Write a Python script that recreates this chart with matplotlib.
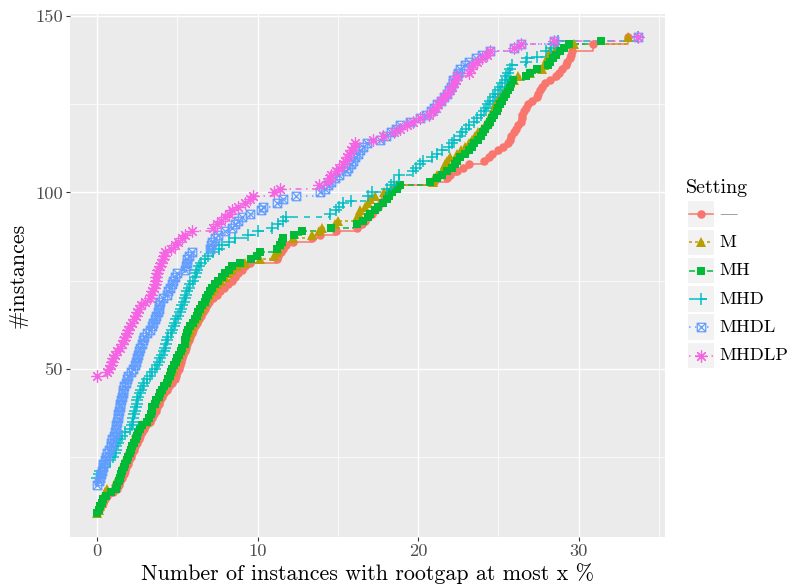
import matplotlib
matplotlib.use('Agg')
import matplotlib.pyplot as plt
from matplotlib.path import Path
from matplotlib.patches import Rectangle
from matplotlib.lines import Line2D

# ---------------- data ----------------
settings = ['—', 'M', 'MH', 'MHD', 'MHDL', 'MHDLP']
colors = ['#F8766D', '#B79F00', '#00BA38', '#00BFC4', '#619CFF', '#F564E3']

x_ticks = [0, 10, 20, 30]
x_tick_labels = ['0', '10', '20', '30']
y_ticks = [50, 100, 150]
y_tick_labels = ['50', '100', '150']

s_none = [(0,9),(0.15,10),(0.25,11),(0.35,12),(0.5,13),(0.65,14),(1.0,15),(1.25,16),(1.35,17),(1.45,18),
          (1.55,19),(1.65,20),(1.72,21),(1.8,22),(1.9,23),(2.0,24),(2.1,25),(2.2,26),(2.28,27),(2.38,28),
          (2.5,29),(2.62,30),(2.7,31),(2.8,32),(2.9,33),(3.05,34),(3.3,35),(3.45,36),(3.55,37),(3.65,38),
          (3.75,39),(3.85,40),(3.95,41),(4.05,42),(4.2,43),(4.35,44),(4.5,45),(4.7,46),(4.85,47),(4.92,48),
          (5.0,49),(5.08,50),(5.15,51),(5.22,52),(5.3,53),(5.38,54),(5.45,55),(5.52,56),(5.6,57),(5.7,58),
          (5.8,59),(5.9,60),(6.0,61),(6.1,62),(6.2,63),(6.35,64),(6.5,65),(6.6,66),(6.7,67),(6.85,68),
          (7.0,69),(7.2,70),(7.45,71),(7.65,72),(7.9,73),(8.15,74),(8.4,75),(8.6,76),(8.8,77),(9.0,78),
          (9.2,79),(9.5,80),(11.2,81),(11.3,82),(11.45,83),(11.6,84),(11.8,85),(12.2,86),(13.4,87),(13.9,88),
          (14.9,89),(16.2,90),(16.5,91),(16.7,92),(16.9,93),(17.1,94),(17.3,95),(17.5,96),(17.7,97),(17.9,98),
          (18.1,99),(18.3,100),(18.5,101),(18.8,102),(21.0,103),(21.8,104),(22.0,105),(22.4,106),(22.8,107),
          (23.2,108),(24.1,109),(24.4,110),(24.6,111),(25.0,112),(25.3,113),(25.6,114),(25.7,115),(25.8,116),
          (26.0,117),(26.1,118),(26.25,119),(26.4,120),(26.45,121),(26.5,122),(26.6,123),(26.7,124),(26.85,125),
          (27.1,126),(27.4,127),(27.5,128),(27.6,129),(27.75,130),(27.9,131),(28.2,132),(28.6,133),(28.8,134),
          (28.95,135),(29.2,136),(29.3,137),(29.45,138),(29.5,139),(29.6,140),(30.9,142),(33.1,144)]

s_m = [(0,9),(0.1,10),(0.2,11),(0.3,12),(0.38,13),(0.5,15),(0.6,16),(1.1,17),(1.2,18),(1.3,19),
       (1.4,20),(1.48,21),(1.54,22),(1.62,23),(1.72,24),(1.82,25),(1.92,26),(2.0,27),(2.1,28),(2.2,29),
       (2.3,30),(2.37,31),(2.45,32),(2.55,33),(2.75,34),(3.05,35),(3.2,36),(3.3,37),(3.35,38),(3.42,39),
       (3.55,40),(3.65,41),(3.8,42),(3.92,43),(4.02,44),(4.12,45),(4.3,46),(4.45,47),(4.55,48),(4.65,49),
       (4.72,50),(4.82,51),(4.92,52),(5.02,53),(5.12,54),(5.25,55),(5.35,56),(5.48,57),(5.55,58),(5.62,59),
       (5.7,60),(5.78,61),(5.9,62),(6.02,63),(6.15,64),(6.28,65),(6.38,66),(6.48,67),(6.62,68),(6.75,69),
       (6.88,70),(7.0,71),(7.15,72),(7.3,73),(7.5,74),(7.7,75),(7.95,76),(8.15,77),(8.4,78),(8.7,79),
       (9.2,80),(10.15,81),(11.0,82),(11.2,83),(11.3,84),(11.4,85),(11.5,86),(12.2,87),(13.4,88),(13.8,89),
       (14.0,90),(14.8,91),(15.0,92),(16.2,93),(16.3,94),(16.4,95),(16.7,96),(16.85,97),(17.0,98),(17.3,99),
       (17.9,100),(18.3,101),(18.7,102),(20.9,103),(21.0,104),(21.2,105),(21.5,106),(21.6,107),(21.7,108),
       (21.8,109),(22.0,110),(22.4,111),(22.7,112),(22.9,113),(23.2,114),(23.35,115),(23.55,116),(23.75,117),
       (24.0,118),(24.2,119),(24.35,120),(24.45,121),(24.55,122),(24.65,123),(24.72,124),(24.8,125),(24.95,126),
       (25.05,127),(25.2,128),(25.4,129),(25.55,130),(25.7,131),(25.95,132),(26.25,133),(27.0,134),(27.7,135),
       (27.85,136),(27.95,137),(28.05,138),(28.15,139),(28.2,140),(28.6,141),(29.7,142),(33.1,144)]

s_mh = [(0,9),(0.1,10),(0.2,11),(0.3,12),(0.4,13),(0.55,14),(0.9,15),(1.15,16),(1.25,17),(1.35,18),
        (1.45,19),(1.52,20),(1.58,21),(1.65,22),(1.75,23),(1.85,24),(1.95,25),(2.05,26),(2.12,27),(2.2,28),
        (2.3,29),(2.42,30),(2.5,31),(2.57,32),(2.65,33),(2.8,34),(3.1,35),(3.25,36),(3.35,37),(3.4,38),
        (3.45,39),(3.6,40),(3.7,41),(3.85,42),(3.95,43),(4.05,44),(4.15,45),(4.35,46),(4.45,47),(4.55,48),
        (4.62,49),(4.7,50),(4.78,51),(4.9,52),(5.0,53),(5.1,54),(5.2,55),(5.3,56),(5.45,57),(5.5,58),
        (5.55,59),(5.6,60),(5.65,61),(5.8,62),(5.95,63),(6.1,64),(6.2,65),(6.3,66),(6.4,67),(6.55,68),
        (6.7,69),(6.8,70),(6.9,71),(7.05,72),(7.15,73),(7.35,74),(7.56,75),(7.8,76),(8.0,77),(8.2,78),
        (8.4,79),(8.9,80),(9.6,81),(9.95,82),(10.15,83),(11.2,84),(11.4,85),(11.5,86),(11.6,87),(12.3,88),
        (12.75,89),(14.6,90),(16.2,91),(16.6,92),(16.85,93),(17.0,94),(17.3,95),(17.5,96),(17.8,97),(18.05,98),
        (18.2,99),(18.4,100),(18.7,101),(18.9,102),(20.75,103),(21.2,104),(21.5,105),(21.8,106),(22.1,107),
        (22.3,108),(22.45,109),(22.6,110),(22.9,111),(23.2,112),(23.35,113),(23.5,114),(23.75,115),(23.9,116),
        (24.05,117),(24.2,118),(24.35,119),(24.5,120),(24.6,121),(24.75,122),(24.9,123),(25.0,124),(25.1,125),
        (25.2,126),(25.35,127),(25.5,128),(25.6,129),(25.7,130),(25.8,131),(25.9,132),(26.7,133),(27.0,134),
        (27.4,135),(28.1,136),(28.25,137),(28.4,138),(28.6,139),(28.85,140),(29.1,141),(29.4,142),(31.4,143)]

s_mhd = [(0,19),(0.1,20),(0.2,21),(0.5,22),(0.8,24),(1.0,25),(1.1,26),(1.15,27),(1.2,28),(1.3,29),
         (1.4,30),(1.55,31),(1.75,32),(2.05,33),(2.15,34),(2.25,35),(2.27,36),(2.3,37),(2.35,38),(2.42,39),
         (2.47,40),(2.52,41),(2.57,42),(2.65,43),(2.75,44),(2.85,45),(2.95,46),(3.1,47),(3.3,48),(3.45,49),
         (3.6,50),(3.75,51),(3.85,52),(3.95,53),(4.05,54),(4.15,55),(4.25,56),(4.3,57),(4.35,58),(4.45,59),
         (4.6,60),(4.7,61),(4.8,62),(4.87,63),(4.95,64),(5.05,65),(5.15,66),(5.22,67),(5.3,68),(5.4,69),
         (5.48,70),(5.55,71),(5.62,72),(5.72,73),(5.82,74),(5.95,75),(6.1,76),(6.18,77),(6.25,78),(6.35,79),
         (6.5,80),(6.7,81),(6.9,82),(7.25,83),(7.6,84),(7.8,85),(8.2,86),(8.6,87),(9.4,88),(10.05,89),
         (10.9,90),(11.3,91),(11.6,92),(11.8,93),(14.5,94),(14.9,95),(15.1,96),(15.3,97),(15.8,97.5),(16.9,99),
         (17.1,100),(18.05,101),(18.3,102),(18.5,103),(18.8,105),(19.7,106),(19.9,107),(20.1,108),(20.3,109),
         (20.85,110),(21.15,111),(21.5,112),(21.9,113),(22.1,114),(22.25,115),(22.6,116),(22.75,117),(23.0,118),
         (23.2,119),(23.5,120),(23.7,121),(23.9,122),(24.1,123),(24.25,124),(24.35,125),(24.5,126),(24.65,127),
         (24.8,128),(24.95,129),(25.1,130),(25.25,131),(25.4,132),(25.5,133),(25.6,134),(25.7,135),(25.84,136),
         (26.7,137),(26.8,138),(27.4,138.5),(28.0,140),(28.3,141),(28.5,142),(28.7,143),(33.7,144)]

s_mhdl = [(0,17),(0.1,18),(0.19,19),(0.25,20),(0.3,21),(0.35,22),(0.4,23),(0.5,24),(0.55,25),(0.6,26),
          (0.75,27),(0.85,28),(0.9,29),(0.95,30),(1.05,31),(1.1,32),(1.15,33),(1.2,34),(1.25,35),(1.3,36),
          (1.33,37),(1.36,38),(1.4,39),(1.43,40),(1.48,41),(1.54,42),(1.6,43),(1.64,44),(1.7,45),(1.78,46),
          (1.85,47),(1.95,48),(2.1,49),(2.25,50),(2.37,51),(2.45,52),(2.52,53),(2.58,54),(2.63,55),(2.68,56),
          (2.78,57),(2.85,58),(2.9,59),(3.1,60),(3.3,61),(3.4,62),(3.5,63),(3.6,64),(3.7,65),(3.78,66),
          (3.83,67),(3.88,68),(3.92,69),(4.1,70),(4.34,71),(4.45,72),(4.55,73),(4.65,74),(4.75,75),(4.85,76),
          (4.97,77),(5.5,78),(5.55,79),(5.58,80),(5.62,81),(5.75,82),(5.9,83),(7.04,84),(7.1,85),(7.15,86),
          (7.35,87),(7.56,88),(8.0,89),(8.4,90),(8.6,91),(8.8,92),(9.0,93),(9.5,94),(10.2,95),(10.35,96),
          (11.2,97),(11.6,98),(12.4,99),(13.9,100),(14.2,101),(14.4,102),(14.6,103),(14.8,104),(15.1,105),
          (15.5,106),(15.65,107),(15.8,108),(15.95,109),(16.1,110),(16.25,111),(16.4,112),(16.6,113),(16.8,114),
          (17.6,115),(18.0,116),(18.3,117),(18.6,118),(18.9,119),(19.5,120),(20.1,121),(20.5,122),(20.8,123),
          (21.0,124),(21.2,125),(21.4,126),(21.6,127),(21.8,128),(21.95,129),(22.05,130),(22.15,131),(22.2,132),
          (22.4,133),(22.5,134),(22.6,135),(22.9,136),(23.2,137),(23.6,138),(24.0,139),(24.5,140),(26.0,141),
          (26.4,142),(28.5,143),(33.7,144)]

s_mhdlp = [(0,48),(0.6,49),(0.75,50),(0.85,51),(0.95,52),(1.0,53),(1.1,54),(1.25,55),(1.43,56),(1.55,57),
           (1.65,58),(1.75,59),(1.85,60),(1.95,61),(2.05,62),(2.15,63),(2.3,64),(2.4,65),(2.5,66),(2.6,67),
           (2.75,68),(3.0,69),(3.3,70),(3.35,71),(3.45,72),(3.55,73),(3.6,74),(3.65,75),(3.7,76),(3.75,77),
           (3.8,78),(3.9,79),(4.0,80),(4.1,81),(4.15,82),(4.24,83),(4.6,84),(4.85,85),(5.07,86),(5.3,87),
           (5.5,88),(5.9,89),(7.25,90),(7.45,91),(7.7,92),(8.0,93),(8.2,94),(8.4,95),(8.8,96),(9.2,97),
           (9.5,98),(9.74,99),(11.0,100),(11.4,101),(13.8,102),(14.3,103),(14.5,104),(14.6,105),(14.9,106),
           (15.1,107),(15.3,108),(15.45,109),(15.6,110),(15.7,111),(15.85,112),(16.0,113),(16.1,114),(17.2,115),
           (17.8,116),(18.5,117),(18.9,118),(19.3,119),(19.7,120),(20.1,121),(20.7,122),(20.9,123),(21.1,124),
           (21.25,125),(21.4,126),(21.6,127),(21.8,128),(22.0,129),(22.1,130),(22.25,131),(22.35,132),(22.4,133),
           (23.2,134),(23.3,135),(23.4,136),(23.7,137),(24.0,138),(24.3,139),(24.5,140),(26.0,141),(26.4,142),
           (28.5,143),(33.7,144)]

series = [s_none, s_m, s_mh, s_mhd, s_mhdl, s_mhdlp]

# ---------------- style ----------------
FONT = ['cmr10', 'DejaVu Serif']
plt.rcParams['font.family'] = FONT
plt.rcParams['axes.formatter.use_mathtext'] = True

# custom markers
sqx = Path([(-1, -1), (1, -1), (1, 1), (-1, 1), (-1, -1), (-1, -1), (1, 1), (-1, 1), (1, -1)],
           [Path.MOVETO, Path.LINETO, Path.LINETO, Path.LINETO, Path.LINETO,
            Path.MOVETO, Path.LINETO, Path.MOVETO, Path.LINETO])
marker_specs = [
    dict(marker='o', ms=8.5, mew=0),
    dict(marker='^', ms=10, mew=0),
    dict(marker='s', ms=8.5, mew=0),
    dict(marker='+', ms=12, mew=1.5),
    dict(marker=sqx, ms=8.5, mew=1.2, mfc='none'),
    dict(marker=(8, 2, 0), ms=12, mew=1.2),
]
linestyles = ['-', (0, (2, 2)), (0, (4, 2)), (0, (4, 4)), (0, (1, 3)), (0, (1, 3, 4, 3))]
LW = 1.5

W, H = 792, 585
fig = plt.figure(figsize=(W / 72, H / 72), dpi=72)

left, right, top, bottom = 70, 665, 13.5, 537
ax = fig.add_axes([left / W, 1 - bottom / H, (right - left) / W, (bottom - top) / H])
ax.set_facecolor('#EBEBEB')
for sp in ax.spines.values():
    sp.set_visible(False)

allx = [p[0] for s in series for p in s]
ally = [p[1] for s in series for p in s]
xr = max(allx) - min(allx)
yr = max(ally) - min(ally)
ax.set_xlim(min(allx) - 0.05 * xr, max(allx) + 0.05 * xr)
ax.set_ylim(min(ally) - 0.05 * yr, max(ally) + 0.05 * yr)

ax.set_xticks(x_ticks)
ax.set_xticklabels(x_tick_labels)
ax.set_yticks(y_ticks)
ax.set_yticklabels(y_tick_labels)
ax.set_xticks([5, 15, 25, 35], minor=True)
ax.set_yticks([25, 75, 125], minor=True)
ax.grid(which='major', color='white', lw=1.4)
ax.grid(which='minor', color='white', lw=0.7)
ax.set_axisbelow(True)
ax.tick_params(which='major', direction='out', length=4, width=1.1, color='#333333',
               labelsize=18.5, labelcolor='#4D4D4D', pad=3)
ax.tick_params(which='minor', length=0)

for s, c, ls in zip(series, colors, linestyles):
    xs = [p[0] for p in s]
    ys = [p[1] for p in s]
    ax.step(xs, ys, where='post', color=c, lw=LW, linestyle=ls, zorder=2)
for s, c, mk in zip(series, colors, marker_specs):
    xs = [p[0] for p in s]
    ys = [p[1] for p in s]
    spec = dict(mk)
    mfc = spec.pop('mfc', c)
    ax.plot(xs, ys, ls='none', color=c, mfc=mfc, mec=c, zorder=3, clip_on=False, **spec)

ax.set_xlabel('Number of instances with rootgap at most x %', fontsize=22, labelpad=4)
ax.set_ylabel('#instances', fontsize=22, labelpad=8)

# ---------------- legend (manual, pixel coords) ----------------
lax = fig.add_axes([0, 0, 1, 1])
lax.set_xlim(0, W)
lax.set_ylim(H, 0)
lax.axis('off')
lax.patch.set_visible(False)
lax.text(686, 188, 'Setting', fontsize=20, va='center', ha='left')
kx0, kw, kh = 687.5, 26, 25.5
for i, (name, c, ls, mk) in enumerate(zip(settings, colors, linestyles, marker_specs)):
    cy = 214 + 28.3 * i
    lax.add_patch(Rectangle((kx0, cy - kh / 2), kw, kh, facecolor='#F2F2F2', edgecolor='none'))
    lax.add_line(Line2D([kx0 + 1, kx0 + kw - 1], [cy, cy], color=c, lw=LW, linestyle=ls))
    spec = dict(mk)
    mfc = spec.pop('mfc', c)
    lax.add_line(Line2D([kx0 + kw / 2], [cy], ls='none', color=c, mfc=mfc, mec=c, **spec))
    lax.text(719, cy, name, fontsize=18.5, va='center', ha='left',
             color='#999999' if name == '—' else 'black')

fig.savefig('out.png', dpi=72)
